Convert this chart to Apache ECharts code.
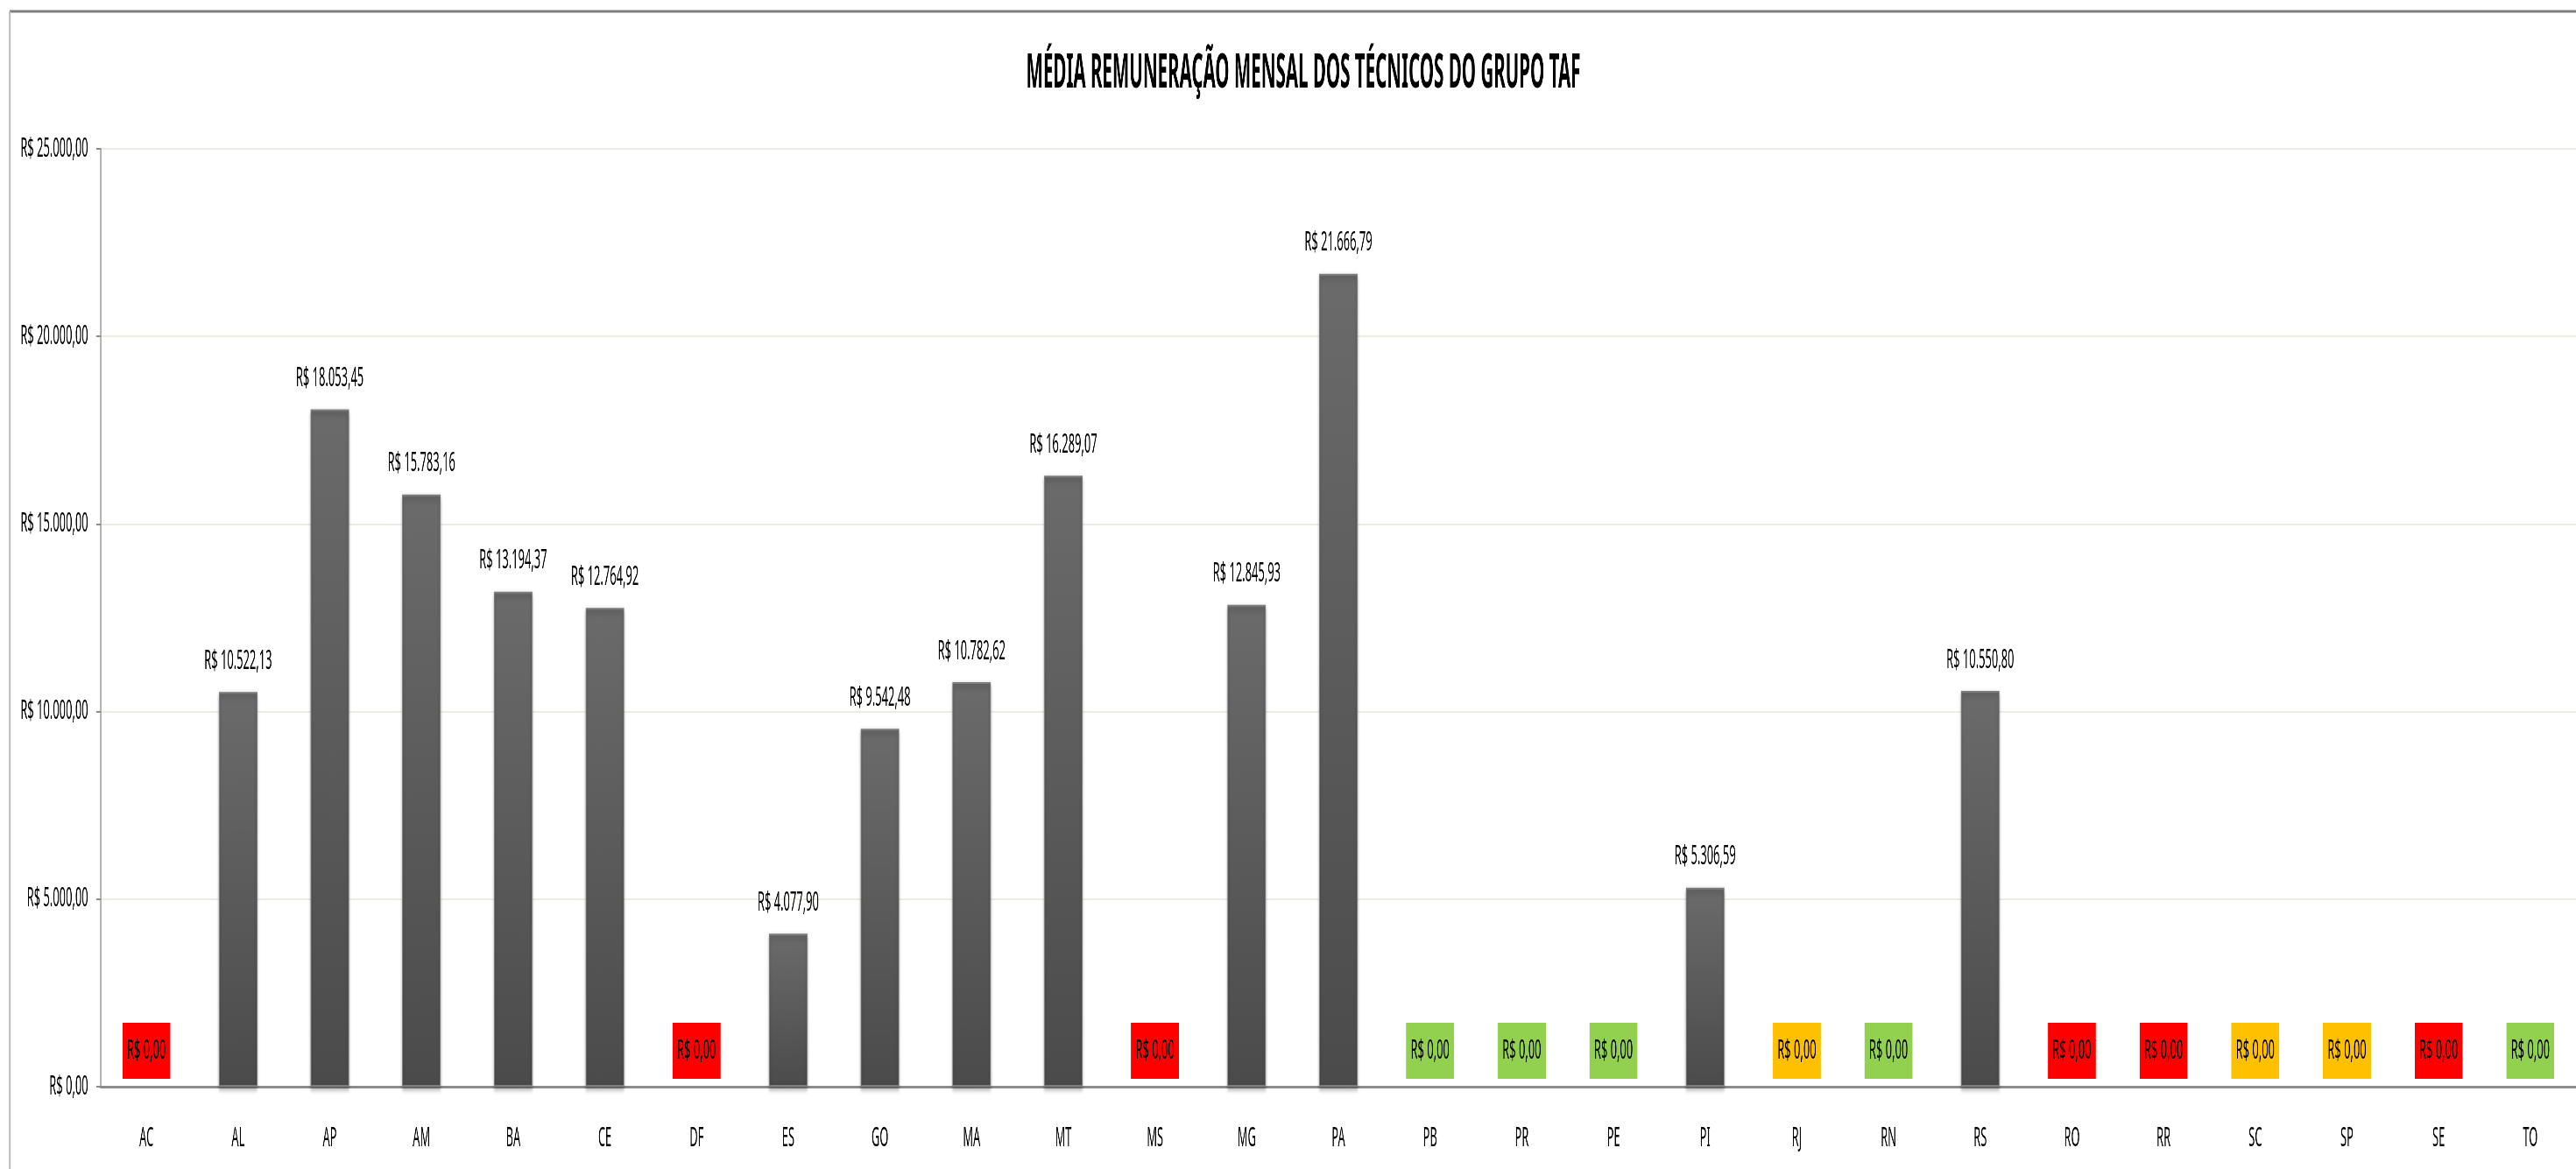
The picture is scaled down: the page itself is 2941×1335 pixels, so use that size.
<!DOCTYPE html>
<html><head><meta charset="utf-8">
<script src="https://cdn.jsdelivr.net/npm/echarts@6/dist/echarts.min.js"></script>
<style>
html,body{margin:0;padding:0;background:#fff;overflow:hidden;}
#wrap{width:2941px;height:1335px;overflow:hidden;position:relative;background:#fff;}
#chart{width:6840px;height:1335px;transform:scaleX(0.43);transform-origin:0 0;}
</style></head><body>
<div id="wrap"><div id="chart"></div></div>
<script>
// ---- data ----
const titleText = 'MÉDIA REMUNERAÇÃO MENSAL DOS TÉCNICOS DO GRUPO TAF';
const categories = ['AC','AL','AP','AM','BA','CE','DF','ES','GO','MA','MT','MS','MG','PA','PB','PR','PE','PI','RJ','RN','RS','RO','RR','SC','SP','SE','TO'];
const values = [0, 10522.13, 18053.45, 15783.16, 13194.37, 12764.92, 0, 4077.90, 9542.48, 10782.62, 16289.07, 0, 12845.93, 21666.79, 0, 0, 0, 5306.59, 0, 0, 10550.80, 0, 0, 0, 0, 0, 0];
// status shown on the zero-value labels
const zeroStatus = ['vermelho','','','','','','vermelho','','','','','vermelho','','','verde','verde','verde','','amarelo','verde','','vermelho','vermelho','amarelo','amarelo','vermelho','verde'];
const yMin = 0, yMax = 25000, yStep = 5000;

// ---- styles ----
const S = 0.43; // horizontal condensation of the picture
const FONT = '"Noto Sans", "Open Sans", sans-serif';
const statusPalette = { vermelho: '#ff0000', amarelo: '#ffc000', verde: '#92d050' };
const TITLE_SIZE = 53;
const TITLE_TARGET_W = 633 / S;   // title width in chart units
const TITLE_CX = 1488 / S;

function brl(v) {
  const s = Number(v).toFixed(2);
  let [i, d] = s.split('.');
  i = i.replace(/\B(?=(\d{3})+(?!\d))/g, '.');
  return 'R$ ' + i + ',' + d;
}

// condense the title the way the reference font is condensed
const mctx = document.createElement('canvas').getContext('2d');
mctx.font = 'bold ' + TITLE_SIZE + 'px ' + FONT;
const titleNatural = mctx.measureText(titleText).width || TITLE_TARGET_W;
const titleScale = Math.min(1, TITLE_TARGET_W / titleNatural);

const barData = values.map((v, i) => {
  if (v === 0 && zeroStatus[i]) {
    return {
      value: v,
      itemStyle: { shadowBlur: 0, shadowOffsetY: 0, shadowColor: 'transparent', borderWidth: 0 },
      label: {
        distance: 9,
        backgroundColor: statusPalette[zeroStatus[i]],
        padding: [17, 12],
        lineHeight: 30
      }
    };
  }
  return v;
});

const chart = echarts.init(document.getElementById('chart'), null, { renderer: 'canvas' });
chart.setOption({
  animation: false,
  backgroundColor: '#ffffff',
  graphic: [
    { type: 'line', shape: { x1: 26, y1: 13, x2: 6840, y2: 13 }, style: { stroke: '#7f7f7f', lineWidth: 3 }, silent: true },
    { type: 'line', shape: { x1: 26, y1: 13, x2: 26, y2: 1335 }, style: { stroke: '#bfbfbf', lineWidth: 5 }, silent: true },
    {
      type: 'text', x: TITLE_CX, y: 85, scaleX: titleScale, silent: true,
      style: {
        text: titleText, fill: '#000', fontFamily: FONT, fontSize: TITLE_SIZE, fontWeight: 'bold',
        textAlign: 'center', textVerticalAlign: 'middle', align: 'center', verticalAlign: 'middle'
      }
    }
  ],
  grid: { left: 267, right: 0, top: 170, bottom: 94, containLabel: false },
  xAxis: {
    type: 'category',
    data: categories,
    axisLine: { show: true, lineStyle: { color: '#8c8c8c', width: 3 } },
    axisTick: { show: false },
    axisLabel: { fontFamily: FONT, fontSize: 30, color: '#000', margin: 44, interval: 0 },
    splitLine: { show: false }
  },
  yAxis: {
    type: 'value',
    min: yMin, max: yMax, interval: yStep,
    axisLine: { show: true, lineStyle: { color: '#a6a6a6', width: 3 } },
    axisTick: { show: true, inside: false, length: 12, lineStyle: { color: '#8c8c8c', width: 2 } },
    axisLabel: { fontFamily: FONT, fontSize: 30, color: '#000', margin: 33, formatter: v => brl(v) },
    splitLine: { show: true, lineStyle: { color: '#eeece1', width: 2 } }
  },
  series: [{
    type: 'bar',
    data: barData,
    barWidth: 102,
    itemStyle: {
      color: new echarts.graphic.LinearGradient(0, 0, 0, 1, [
        { offset: 0, color: '#6b6b6b' },
        { offset: 1, color: '#4b4b4b' }
      ]),
      borderColor: '#7d7d7d',
      borderWidth: 2,
      shadowColor: 'rgba(0,0,0,0.35)',
      shadowBlur: 6,
      shadowOffsetY: 3
    },
    label: {
      show: true,
      position: 'top',
      distance: 20,
      fontFamily: FONT,
      fontSize: 30,
      color: '#000',
      formatter: p => brl(p.value)
    }
  }]
});
</script>
</body></html>
